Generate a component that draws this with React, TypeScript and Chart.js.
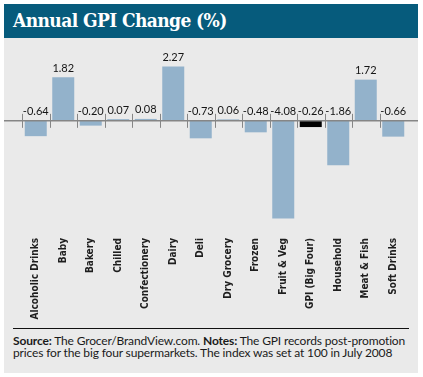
import React, { useEffect, useRef } from "react";
import { Chart, registerables } from "chart.js";

Chart.register(...registerables);

const categories = [
  "Alcoholic Drinks",
  "Baby",
  "Bakery",
  "Chilled",
  "Confectionery",
  "Dairy",
  "Deli",
  "Dry Grocery",
  "Frozen",
  "Fruit & Veg",
  "GPI (Big Four)",
  "Household",
  "Meat & Fish",
  "Soft Drinks",
];
const changes = [-0.64, 1.82, -0.2, 0.07, 0.08, 2.27, -0.73, 0.06, -0.48, -4.08, -0.26, -1.86, 1.72, -0.66];
const highlightCategory = "GPI (Big Four)";

const BAR_COLOR = "#93b2cb";
const HIGHLIGHT_COLOR = "#000000";

const zeroAxisPlugin = {
  id: "zeroAxis",
  afterDatasetsDraw(chart: any) {
    const { ctx, width } = chart;
    const x = chart.scales.x;
    const y = chart.scales.y;
    const y0 = y.getPixelForValue(0);
    ctx.save();
    ctx.strokeStyle = "#868686";
    ctx.lineWidth = 1.5;
    ctx.beginPath();
    ctx.moveTo(0, y0);
    ctx.lineTo(width, y0);
    ctx.stroke();
    ctx.lineWidth = 1;
    categories.forEach((_, i) => {
      const px = Math.round(x.getPixelForValue(i - 0.5)) + 0.5;
      ctx.beginPath();
      ctx.moveTo(px, y0 - 7);
      ctx.lineTo(px, y0 + 7);
      ctx.stroke();
    });
    ctx.font = "11px Lato";
    ctx.fillStyle = "#151515";
    ctx.textAlign = "center";
    ctx.textBaseline = "alphabetic";
    changes.forEach((v, i) => {
      const px = x.getPixelForValue(i);
      const top = y.getPixelForValue(Math.max(v, 0));
      ctx.fillText(v.toFixed(2), px, top - 5.5);
    });
    ctx.restore();
  },
};

function GpiChart() {
  const ref = useRef<HTMLCanvasElement | null>(null);
  useEffect(() => {
    if (!ref.current) return;
    const chart = new Chart(ref.current, {
      type: "bar",
      data: {
        labels: categories,
        datasets: [
          {
            data: changes,
            backgroundColor: categories.map((c) => (c === highlightCategory ? HIGHLIGHT_COLOR : BAR_COLOR)),
            borderWidth: 0,
            barPercentage: 0.8,
            categoryPercentage: 1,
          },
        ],
      },
      options: {
        animation: false,
        responsive: false,
        maintainAspectRatio: false,
        layout: { padding: { left: 18, right: 11, top: 11, bottom: 0 } },
        plugins: {
          legend: { display: false },
          tooltip: { enabled: false },
          title: { display: false },
        },
        scales: {
          x: {
            grid: { display: false },
            border: { display: false },
            afterFit: (scale: any) => {
              scale.height = 106;
            },
            ticks: {
              autoSkip: false,
              maxRotation: 90,
              minRotation: 90,
              padding: 11,
              color: "#1e1e1e",
              font: { family: "'DejaVu Sans Condensed', 'DejaVu Sans'", size: 10, weight: "bold" },
            },
          },
          y: {
            display: false,
            min: -4.1,
            max: 3,
          },
        },
      },
      plugins: [zeroAxisPlugin],
    });
    return () => chart.destroy();
  }, []);
  return <canvas ref={ref} width={414} height={287} style={{ display: "block", width: 414, height: 287 }} />;
}

export default function App() {
  return (
    <div style={{ position: "fixed", left: 0, top: 0, width: 423, height: 377, background: "#ffffff", overflow: "hidden" }}>
      <div
        style={{
          position: "absolute",
          left: 4,
          top: 4,
          width: 414,
          height: 34,
          background: "#065b7c",
        }}
      >
        <div
          style={{
            position: "absolute",
            left: 9,
            top: 0,
            lineHeight: "33px",
            color: "#ffffff",
            fontFamily: "'DejaVu Serif Condensed', 'DejaVu Serif', serif",
            fontWeight: "bold",
            fontSize: 19,
            letterSpacing: -0.6,
            whiteSpace: "nowrap",
          }}
        >
          Annual GPI Change (%)
        </div>
      </div>
      <div style={{ position: "absolute", left: 4, top: 38, width: 414, height: 335, background: "#eaeaea" }}>
        <div style={{ position: "absolute", left: 0, top: 0 }}>
          <GpiChart />
        </div>
        <div style={{ position: "absolute", left: 9, top: 290, width: 396, height: 1, background: "#111" }} />
        <div
          style={{
            position: "absolute",
            left: 9,
            top: 297,
            fontFamily: "Lato, sans-serif",
            fontSize: 12,
            letterSpacing: -0.15,
            lineHeight: "12px",
            color: "#1a1a1a",
            whiteSpace: "nowrap",
          }}
        >
          <b>Source:</b> The Grocer/BrandView.com. <b>Notes:</b> The GPI records post-promotion
          <br />
          prices for the big four supermarkets. The index was set at 100 in July 2008
        </div>
      </div>
    </div>
  );
}
